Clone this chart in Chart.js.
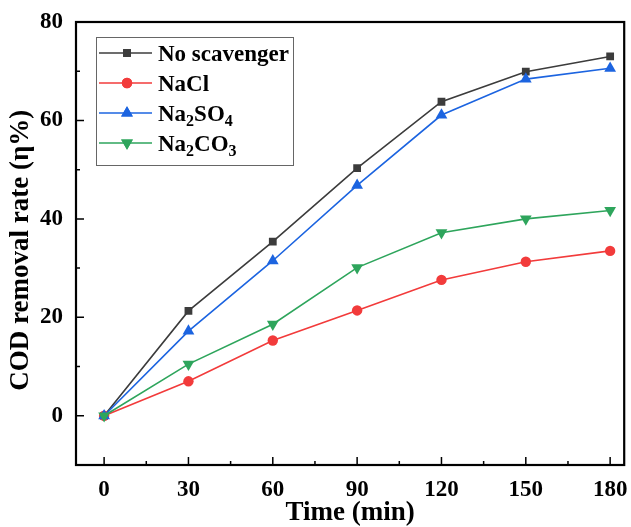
<!DOCTYPE html>
<html>
<head>
<meta charset="utf-8">
<script src="https://cdn.jsdelivr.net/npm/chart.js@4"></script>
<style>
  html, body { margin: 0; padding: 0; background: #fff; }
  #wrap { width: 631px; height: 527px; }
</style>
</head>
<body>
<div id="wrap"><canvas id="chart" width="631" height="527"></canvas></div>
<script>
const times = [0, 30, 60, 90, 120, 150, 180];
const noScavenger = [0, 21.3, 35.4, 50.3, 63.8, 69.9, 73.0];
const naCl = [0, 7.0, 15.3, 21.4, 27.6, 31.3, 33.5];
const na2so4 = [0, 17.2, 31.5, 46.8, 61.1, 68.4, 70.6];
const na2co3 = [0, 10.5, 18.6, 30.1, 37.2, 40.0, 41.7];
const seriesNames = ['No scavenger', 'NaCl', 'Na2SO4', 'Na2CO3'];
const xTicks = [0, 30, 60, 90, 120, 150, 180];
const yTicks = [0, 20, 40, 60, 80];
const xMinor = [15, 45, 75, 105, 135, 165];
const yMinor = [10, 30, 50, 70];

const FONT = '"Liberation Serif", "Times New Roman", serif';

function makeSet(label, values, color, style, rot, radius, order) {
    return {
        label: label,
        data: times.map((t, i) => ({ x: t, y: values[i] })),
        borderColor: color,
        backgroundColor: color,
        borderWidth: 1.6,
        pointStyle: style,
        rotation: rot,
        pointRadius: radius,
        pointBorderWidth: 0,
        tension: 0,
        order: order
    };
}

const datasets = [
    makeSet(seriesNames[0], noScavenger, '#3c3c3c', 'rect', 0, 5.5, 4),
    makeSet(seriesNames[1], naCl, '#f23b3b', 'circle', 0, 5.2, 3),
    makeSet(seriesNames[2], na2so4, '#1c64e0', 'triangle', 0, 6.8, 2),
    makeSet(seriesNames[3], na2co3, '#2ea55c', 'triangle', 180, 6.8, 1)
];

// inward ticks + frame
const framePlugin = {
    id: 'frame',
    afterDatasetsDraw(chart) {
        const ctx = chart.ctx;
        const a = chart.chartArea;
        const xs = chart.scales.x, ys = chart.scales.y;
        ctx.save();
        ctx.strokeStyle = '#000';
        ctx.lineWidth = 1.5;
        ctx.beginPath();
        xTicks.forEach(v => { const p = xs.getPixelForValue(v); ctx.moveTo(p, a.bottom); ctx.lineTo(p, a.bottom - 8); });
        xMinor.forEach(v => { const p = xs.getPixelForValue(v); ctx.moveTo(p, a.bottom); ctx.lineTo(p, a.bottom - 4); });
        yTicks.forEach(v => { const p = ys.getPixelForValue(v); ctx.moveTo(a.left, p); ctx.lineTo(a.left + 8, p); });
        yMinor.forEach(v => { const p = ys.getPixelForValue(v); ctx.moveTo(a.left, p); ctx.lineTo(a.left + 4, p); });
        ctx.stroke();
        ctx.lineWidth = 2.2;
        ctx.strokeRect(a.left, a.top, a.right - a.left, a.bottom - a.top);
        ctx.restore();
    }
};

// legend box with subscripts
const legendPlugin = {
    id: 'boxLegend',
    afterDraw(chart) {
        const ctx = chart.ctx;
        const bx = 96, by = 37, bw = 197, bh = 128;
        ctx.save();
        ctx.fillStyle = '#fff';
        ctx.fillRect(bx, by, bw, bh);
        ctx.strokeStyle = '#666';
        ctx.lineWidth = 1;
        ctx.strokeRect(bx + 0.5, by + 0.5, bw, bh);
        chart.data.datasets.forEach((ds, i) => {
            const yy = 53 + i * 30;
            ctx.strokeStyle = ds.borderColor;
            ctx.lineWidth = 1.6;
            ctx.beginPath();
            ctx.moveTo(99, yy);
            ctx.lineTo(152, yy);
            ctx.stroke();
            ctx.fillStyle = ds.borderColor;
            Chart.helpers.drawPoint(ctx, {
                pointStyle: ds.pointStyle, rotation: ds.rotation,
                radius: ds.pointRadius, borderWidth: 0
            }, 127, yy);
            ctx.fill();
            // text, digits as subscripts
            let tx = 158;
            ctx.fillStyle = '#000';
            ctx.textBaseline = 'alphabetic';
            for (const ch of ds.label) {
                if (/[0-9]/.test(ch)) {
                    ctx.font = 'bold 16px ' + FONT;
                    ctx.fillText(ch, tx, yy + 13);
                } else {
                    ctx.font = 'bold 23px ' + FONT;
                    ctx.fillText(ch, tx, yy + 8);
                }
                tx += ctx.measureText(ch).width;
            }
        });
        ctx.restore();
    }
};

new Chart(document.getElementById('chart'), {
    type: 'line',
    data: { datasets: datasets },
    options: {
        responsive: false,
        animation: false,
        layout: { padding: { top: 22, right: 5, left: 0, bottom: 0 } },
        plugins: { legend: { display: false }, tooltip: { enabled: false } },
        scales: {
            x: {
                type: 'linear',
                min: -10, max: 185,
                afterBuildTicks: s => { s.ticks = xTicks.map(v => ({ value: v })); },
                afterFit: s => { s.height = 62; },
                grid: { display: false },
                border: { display: false },
                ticks: { color: '#000', font: { family: FONT, size: 23, weight: 'bold' }, padding: 3, maxRotation: 0 },
                title: { display: true, text: 'Time (min)', color: '#000', font: { family: FONT, size: 27, weight: 'bold', lineHeight: 1 }, padding: { top: 0, bottom: 0 } }
            },
            y: {
                min: -10, max: 80,
                afterBuildTicks: s => { s.ticks = yTicks.map(v => ({ value: v })); },
                afterFit: s => { s.width = 76; },
                grid: { display: false },
                border: { display: false },
                ticks: { color: '#000', font: { family: FONT, size: 23, weight: 'bold' }, padding: 5 },
                title: { display: true, text: 'COD removal rate (η%)  ', color: '#000', font: { family: FONT, size: 27, weight: 'bold', lineHeight: 1 }, padding: { top: 8, bottom: 0 } }
            }
        }
    },
    plugins: [framePlugin, legendPlugin]
});
</script>
</body>
</html>
